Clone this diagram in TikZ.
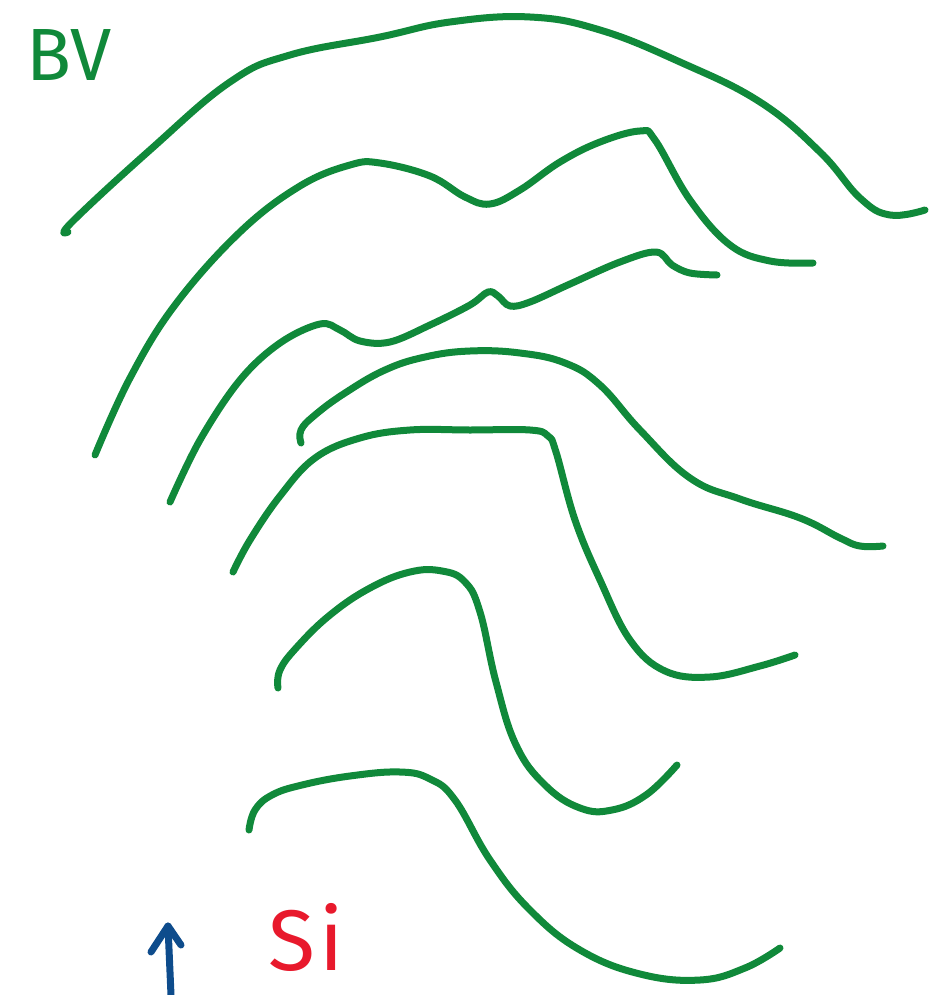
\documentclass[tikz,border=0pt]{standalone}
\usepackage{fontspec}
\setmainfont{Fira Sans}
\definecolor{penGreen}{HTML}{10893A}
\definecolor{penBlue}{HTML}{0E4C8C}
\definecolor{penRed}{HTML}{E8192C}
\begin{document}
\begin{tikzpicture}[x=1pt,y=-1pt,
  stroke/.style={draw=penGreen,line width=7pt,line cap=round,line join=round},
  bluepen/.style={draw=penBlue,line width=7pt,line cap=round,line join=round},
  label/.style={inner sep=0pt,text depth=0pt,anchor=base west}]
\useasboundingbox (0,0) rectangle (938,995);
% contour lines
\draw[stroke] plot[smooth,tension=0.7] coordinates {(68,232) (72,222) (150,150) (230,82) (290,55) (380,37) (450,22) (530,17) (600,30) (680,62) (760,102) (820,152) (860,198) (890,215) (925,210)};
\draw[stroke] plot[smooth,tension=0.65] coordinates {(95,455) (130,378) (175,305) (240,232) (300,186) (350,165) (380,163) (430,176) (465,197) (490,204) (520,190) (560,162) (600,142) (640,131) (655,140) (690,200) (730,245) (770,261) (813,263)};
\draw[stroke] plot[smooth,tension=0.6] coordinates {(170,502) (200,440) (240,380) (280,343) (320,324) (340,330) (360,341) (390,342) (430,325) (470,305) (488,292) (498,296) (510,306) (530,302) (570,284) (620,262) (656,252) (672,265) (690,273) (717,275)};
\draw[stroke] plot[smooth,tension=0.7] coordinates {(301,443) (301,430) (315,415) (345,393) (385,370) (425,357) (470,351) (520,353) (565,363) (600,385) (640,430) (690,478) (740,499) (800,518) (840,538) (860,546) (883,546)};
\draw[stroke] plot[smooth,tension=0.65] coordinates {(233,572) (250,540) (280,496) (315,458) (360,438) (410,430) (470,430) (530,430) (548,436) (556,452) (575,520) (600,580) (630,640) (665,671) (710,677) (760,666) (795,655)};
\draw[stroke] plot[smooth,tension=0.7] coordinates {(278,688) (280,670) (297,647) (330,615) (370,588) (410,572) (442,571) (465,582) (480,612) (496,682) (516,745) (545,785) (580,808) (612,810) (646,795) (677,765)};
\draw[stroke] plot[smooth,tension=0.7] coordinates {(249,830) (255,810) (272,795) (302,785) (350,776) (400,772) (430,779) (455,800) (490,860) (530,910) (580,950) (640,974) (700,980) (745,968) (780,948)};
% labels
\node[label,text=penGreen,font=\fontsize{74}{74}\selectfont] (bv) at (26,81) {BV};
\node[label,text=penRed,font=\fontsize{86}{86}\selectfont] (si) at (268,970) {S\kern4pt i};
% upward arrow with hand-drawn barbs
\coordinate (arrowFoot) at (171,995);
\coordinate (arrowTip) at (168,926);
\coordinate (barbLeft) at (151,952);
\coordinate (barbRight) at (181,945);
\draw[bluepen] (arrowFoot) -- (arrowTip);
\draw[bluepen] (barbLeft) -- (arrowTip) -- (barbRight);
\end{tikzpicture}
\end{document}
